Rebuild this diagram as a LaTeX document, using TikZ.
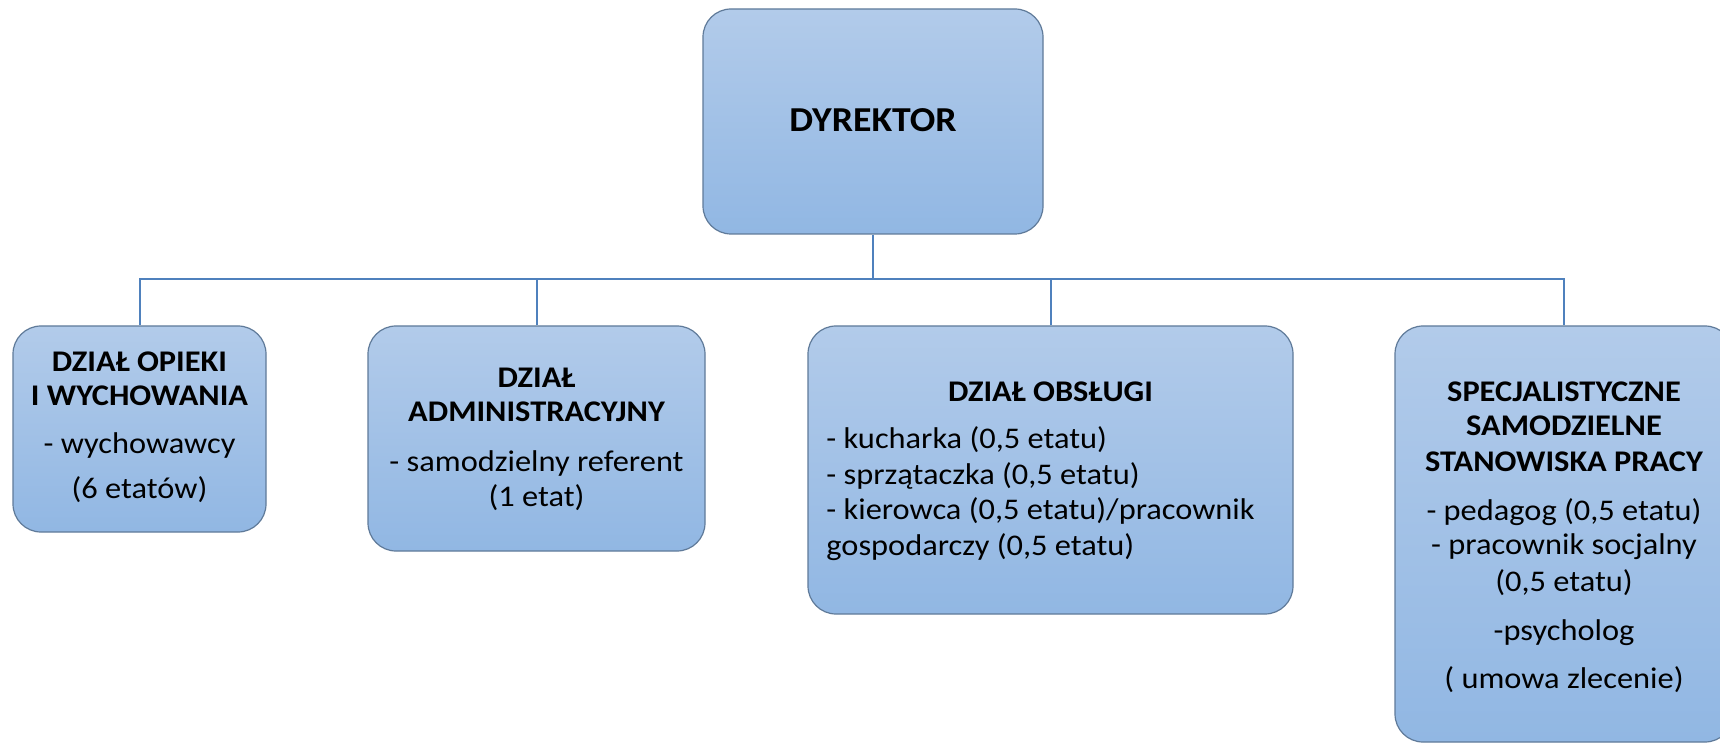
\documentclass[tikz,border=0pt]{standalone}
\usepackage{fontspec}
\setmainfont{Carlito}[FakeStretch=1.08]
\begin{document}
\begin{tikzpicture}[x=0.5pt,y=-0.5pt,
  orgbox/.style={draw={rgb,255:red,95;green,122;blue,153}, line width=0.6pt,
    rounded corners=14pt, top color={rgb,255:red,178;green,203;blue,234},
    bottom color={rgb,255:red,145;green,183;blue,227}, inner sep=0pt},
  txt/.style={anchor=base, inner sep=0pt, font=\fontsize{15}{18}\selectfont},
  ttl/.style={txt, font=\fontsize{15}{18}\selectfont\bfseries},
  ltxt/.style={txt, anchor=base west},
  conn/.style={draw={rgb,255:red,79;green,129;blue,189}, line width=1pt}]
\useasboundingbox (0,0) rectangle (1720,743);
\clip (0,0) rectangle (1720,743);
% boxes
\node[orgbox, minimum width=170pt, minimum height=112.5pt] (dir) at (873,121.5) {};
\node[orgbox, minimum width=126.5pt, minimum height=103pt] (b1) at (139.5,429) {};
\node[orgbox, minimum width=168.5pt, minimum height=112.5pt] (b2) at (536.5,438.5) {};
\node[orgbox, minimum width=242.5pt, minimum height=144pt] (b3) at (1050.5,470) {};
\node[orgbox, minimum width=169pt, minimum height=208pt] (b4) at (1564,534) {};
% connectors
\coordinate (bus) at (873,279);
\draw[conn] (dir.south) -- (bus);
\draw[conn] (b1.north) |- (bus);
\draw[conn] (b4.north) |- (bus);
\draw[conn] (b2.north) -- (b2.north |- bus);
\draw[conn] (b3.north) -- (b3.north |- bus);
% texts
\node[txt, font=\fontsize{17.5}{21}\selectfont\bfseries] (dirt) at (873,131.7) {DYREKTOR};
\node[ttl] (b1t1) at (139.5,371.7) {DZIAŁ OPIEKI};
\node[ttl] (b1t2) at (139.5,405.7) {I WYCHOWANIA};
\node[txt] (b1t3) at (139.5,453) {- wychowawcy};
\node[txt] (b1t4) at (139.5,498) {(6 etatów)};
\node[ttl] (b2t1) at (536.5,387.7) {DZIAŁ};
\node[ttl] (b2t2) at (536.5,421.7) {ADMINISTRACYJNY};
\node[txt] (b2t3) at (536.5,471) {- samodzielny referent};
\node[txt] (b2t4) at (536.5,506.7) {(1 etat)};
\node[ttl] (b3t1) at (1050.5,401.7) {DZIAŁ OBSŁUGI};
\node[ltxt] (b3t2) at (826,449) {- kucharka (0,5 etatu)};
\node[ltxt] (b3t3) at (826,484) {- sprzątaczka (0,5 etatu)};
\node[ltxt] (b3t4) at (826,519) {- kierowca (0,5 etatu)/pracownik};
\node[ltxt] (b3t5) at (826,555) {gospodarczy (0,5 etatu)};
\node[ttl] (b4t1) at (1564,401.7) {SPECJALISTYCZNE};
\node[ttl] (b4t2) at (1564,435.7) {SAMODZIELNE};
\node[ttl] (b4t3) at (1564,471) {STANOWISKA PRACY};
\node[txt] (b4t4) at (1564,520) {- pedagog (0,5 etatu)};
\node[txt] (b4t5) at (1564,554) {- pracownik socjalny};
\node[txt] (b4t6) at (1564,591.7) {(0,5 etatu)};
\node[txt] (b4t7) at (1564,640) {-psycholog};
\node[txt] (b4t8) at (1564,688) {( umowa zlecenie)};
\end{tikzpicture}
\end{document}
